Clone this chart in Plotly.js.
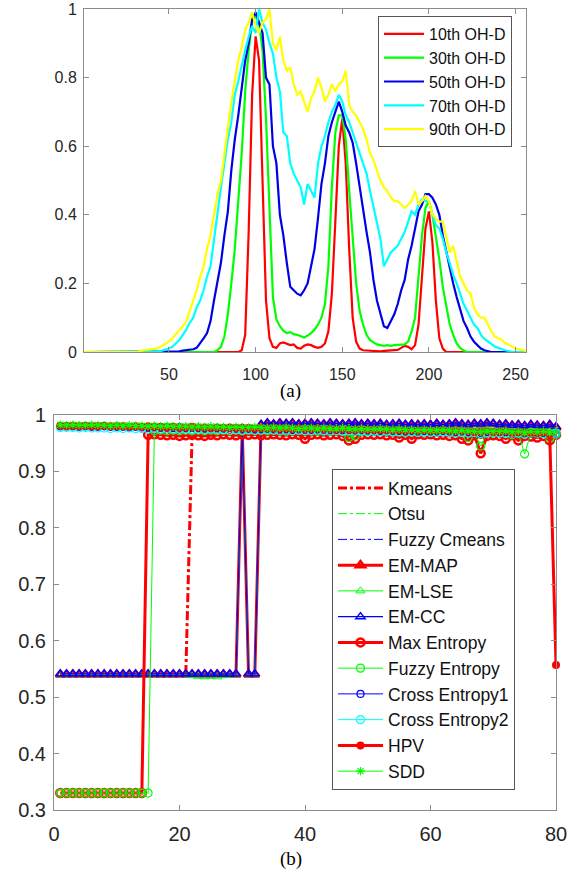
<!DOCTYPE html>
<html>
<head>
<meta charset="utf-8">
<script src="https://cdn.plot.ly/plotly-3.0.1.min.js"></script>
<style>html,body{margin:0;padding:0;background:#fff;}#chart{width:579px;height:873px;}</style>
</head>
<body>
<div id="chart"></div>
<script>
// ---------- (a) histograms ----------
const grayLevels = [0,2,4,6,8,10,12,14,16,18, 20,22,24,26,28,30,32,34,36,38, 40,42,44,46,48,50,52,54,56,58,
  60,62,64,66,68,70,72,74,76,78, 80,82,84,86,88,90,92,94,96,98, 100,102,104,106,108,110,112,114,116,118,
  120,122,124,126,128,130,132,134,136,138, 140,142,144,146,148,150,152,154,156,158,
  160,162,164,166,168,170,172,174,176,178, 180,182,184,186,188,190,192,194,196,198,
  200,202,204,206,208,210,212,214,216,218, 220,222,224,226,228,230,232,234,236,238,
  240,242,244,246,248,250,252,254,256];

const histNames = ['10th OH-D','30th OH-D','50th OH-D','70th OH-D','90th OH-D'];

const oh10 = [0,0,0,0,0,0,0,0,0,0, 0,0,0,0,0,0,0,0,0,0, 0,0,0,0,0,0,0,0,0,0, 0,0,0,0,0,0,0,0,0,0,
  0,0,0,0,0,0,0.005,0.05,0.35,0.75,
  0.92,0.85,0.5,0.15,0.04,0.015,0.012,0.025,0.028,0.025,
  0.02,0.022,0.012,0.01,0.018,0.022,0.02,0.015,0.012,0.015,
  0.025,0.06,0.17,0.38,0.6,0.68,0.55,0.3,0.1,0.03,
  0.01,0.005,0.004,0.003,0.004,0.003,0.002,0.003,0.004,0.003,
  0.004,0.006,0.012,0.018,0.015,0.008,0.02,0.08,0.22,0.36,
  0.41,0.32,0.15,0.04,0.01,0,0,0,0,0,
  0,0,0,0,0,0,0,0,0,0, 0,0,0,0,0,0,0,0,0];

const oh30 = [0,0,0,0,0,0,0,0,0,0, 0,0,0,0,0,0,0,0,0,0, 0,0,0,0,0,0,0,0,0,0,
  0,0,0,0,0,0,0,0,0,0.005,
  0.015,0.045,0.11,0.2,0.3,0.44,0.58,0.76,0.88,0.96,
  0.98,0.96,0.88,0.68,0.4,0.16,0.095,0.075,0.062,0.055,
  0.058,0.052,0.05,0.045,0.042,0.048,0.055,0.065,0.08,0.1,
  0.14,0.25,0.48,0.64,0.69,0.69,0.62,0.47,0.32,0.2,
  0.12,0.08,0.05,0.035,0.028,0.022,0.02,0.018,0.02,0.018,
  0.02,0.02,0.02,0.022,0.03,0.06,0.1,0.22,0.34,0.42,
  0.44,0.4,0.34,0.27,0.19,0.13,0.08,0.05,0.025,0.012,
  0.004,0,0,0,0,0,0,0,0,0, 0,0,0,0,0,0,0,0,0];

const oh50 = [0,0,0,0,0,0,0,0,0,0, 0,0,0,0,0,0,0,0,0,0,
  0,0,0,0,0,0,0,0,0.002,0.004,
  0.005,0.006,0.008,0.012,0.025,0.04,0.055,0.09,0.15,0.21,
  0.26,0.34,0.41,0.53,0.62,0.69,0.77,0.85,0.9,0.97,
  0.99,0.96,0.93,0.8,0.78,0.6,0.55,0.4,0.34,0.26,
  0.19,0.18,0.17,0.165,0.18,0.2,0.25,0.3,0.39,0.49,
  0.55,0.63,0.67,0.7,0.73,0.7,0.66,0.64,0.61,0.55,
  0.48,0.42,0.35,0.29,0.21,0.15,0.11,0.075,0.07,0.09,
  0.11,0.14,0.18,0.21,0.27,0.31,0.36,0.41,0.43,0.46,
  0.46,0.45,0.43,0.4,0.34,0.29,0.24,0.2,0.16,0.125,
  0.09,0.07,0.045,0.03,0.02,0.01,0.005,0.002,0,0,
  0,0,0,0,0,0,0,0,0];

const oh70 = [0,0,0,0,0,0,0,0,0,0, 0,0,0,0,0,0,0,0,0,0,
  0,0,0.002,0.004,0.006,0.01,0.015,0.025,0.035,0.05,
  0.065,0.085,0.1,0.13,0.15,0.18,0.22,0.25,0.33,0.4,
  0.48,0.55,0.62,0.67,0.75,0.79,0.84,0.88,0.92,0.95,
  0.93,1.0,0.96,0.94,0.9,0.87,0.8,0.76,0.64,0.63,
  0.55,0.52,0.5,0.48,0.43,0.49,0.47,0.45,0.55,0.6,
  0.63,0.67,0.7,0.72,0.75,0.73,0.69,0.67,0.64,0.61,
  0.58,0.55,0.52,0.47,0.42,0.37,0.33,0.25,0.27,0.29,
  0.3,0.31,0.33,0.35,0.38,0.41,0.4,0.43,0.445,0.44,
  0.44,0.4,0.37,0.36,0.33,0.29,0.26,0.225,0.2,0.17,
  0.14,0.12,0.1,0.08,0.07,0.05,0.038,0.03,0.022,0.016,
  0.012,0.008,0.005,0.003,0,0,0,0,0];

const oh90 = [0,0,0,0,0,0,0,0,0,0,
  0,0,0,0,0,0,0,0.004,0.005,0.006,
  0.008,0.01,0.012,0.018,0.025,0.03,0.04,0.05,0.063,0.075,
  0.09,0.12,0.15,0.18,0.22,0.25,0.3,0.34,0.4,0.46,
  0.5,0.58,0.65,0.73,0.79,0.85,0.89,0.94,0.96,0.99,
  0.95,0.93,0.96,0.97,1.0,0.9,0.88,0.92,0.85,0.82,
  0.83,0.78,0.75,0.76,0.73,0.7,0.74,0.76,0.8,0.77,
  0.73,0.75,0.78,0.76,0.78,0.79,0.82,0.72,0.7,0.69,
  0.67,0.65,0.62,0.58,0.56,0.53,0.5,0.48,0.47,0.45,
  0.44,0.44,0.43,0.42,0.43,0.44,0.47,0.43,0.44,0.455,
  0.44,0.4,0.39,0.38,0.38,0.33,0.29,0.31,0.26,0.22,
  0.2,0.18,0.17,0.13,0.11,0.1,0.1,0.08,0.06,0.045,
  0.04,0.035,0.025,0.022,0.015,0.01,0.008,0.005,0.003];

const histColors = ['#ff0000','#00ff00','#0000e6','#00ffff','#ffff00'];

// ---------- (b) segmentation scores ----------
const imageIndex = [1,2,3,4,5,6,7,8,9,10, 11,12,13,14,15,16,17,18,19,20, 21,22,23,24,25,26,27,28,29,30,
  31,32,33,34,35,36,37,38,39,40, 41,42,43,44,45,46,47,48,49,50, 51,52,53,54,55,56,57,58,59,60,
  61,62,63,64,65,66,67,68,69,70, 71,72,73,74,75,76,77,78,79,80];

const methodNames = ['Kmeans','Otsu','Fuzzy Cmeans','EM-MAP','EM-LSE','EM-CC','Max Entropy','Fuzzy Entropy','Cross Entropy1','Cross Entropy2','HPV','SDD'];

const kmeans = [0.54,0.54,0.54,0.54,0.54,0.54,0.54,0.54,0.54,0.54,
  0.54,0.54,0.54,0.54,0.54,0.54,0.54,0.54,0.54,0.54,
  0.54,0.962,0.965,0.966,0.964,0.966,0.967,0.966,0.968,0.967,
  0.968,0.967,0.969,0.968,0.97,0.968,0.969,0.97,0.968,0.967,
  0.969,0.97,0.968,0.969,0.97,0.969,0.966,0.967,0.969,0.97,
  0.969,0.97,0.968,0.969,0.967,0.968,0.966,0.968,0.969,0.97,
  0.968,0.969,0.967,0.968,0.965,0.964,0.966,0.96,0.966,0.967,
  0.966,0.964,0.966,0.963,0.965,0.966,0.964,0.966,0.962,0.965];

const otsu = [0.982,0.982,0.981,0.982,0.981,0.981,0.982,0.981,0.981,0.98,
  0.98,0.981,0.98,0.98,0.979,0.98,0.979,0.979,0.98,0.979,
  0.979,0.978,0.979,0.978,0.979,0.978,0.978,0.977,0.978,0.977,
  0.977,0.978,0.977,0.977,0.976,0.977,0.976,0.977,0.976,0.975,
  0.976,0.975,0.976,0.975,0.975,0.976,0.974,0.975,0.975,0.974,
  0.975,0.974,0.975,0.974,0.973,0.974,0.973,0.974,0.973,0.973,
  0.974,0.973,0.972,0.973,0.972,0.971,0.972,0.968,0.972,0.971,
  0.971,0.97,0.971,0.969,0.97,0.97,0.969,0.97,0.968,0.969];

const fuzzyCmeans = [0.981,0.981,0.98,0.981,0.98,0.98,0.981,0.98,0.98,0.98,
  0.98,0.979,0.98,0.979,0.979,0.98,0.979,0.978,0.979,0.978,
  0.978,0.979,0.978,0.977,0.978,0.977,0.978,0.977,0.977,0.976,
  0.977,0.976,0.977,0.976,0.976,0.977,0.976,0.975,0.976,0.975,
  0.975,0.976,0.975,0.974,0.975,0.974,0.975,0.974,0.974,0.973,
  0.974,0.973,0.974,0.973,0.973,0.972,0.973,0.972,0.973,0.972,
  0.972,0.973,0.972,0.971,0.972,0.971,0.97,0.969,0.971,0.97,
  0.97,0.971,0.969,0.97,0.968,0.969,0.968,0.969,0.967,0.968];

const emMap = [0.54,0.54,0.54,0.54,0.54,0.54,0.54,0.54,0.54,0.54,
  0.54,0.54,0.54,0.54,0.54,0.54,0.54,0.54,0.54,0.54,
  0.54,0.54,0.54,0.54,0.54,0.54,0.54,0.54,0.54,0.975,
  0.54,0.54,0.982,0.985,0.983,0.985,0.984,0.985,0.983,0.984,
  0.985,0.984,0.983,0.985,0.984,0.983,0.984,0.985,0.983,0.984,
  0.983,0.984,0.982,0.983,0.984,0.982,0.983,0.982,0.983,0.982,
  0.984,0.982,0.983,0.985,0.983,0.982,0.984,0.983,0.985,0.984,
  0.982,0.983,0.981,0.982,0.98,0.982,0.981,0.98,0.982,0.978];

const emLse = [0.54,0.54,0.54,0.54,0.54,0.54,0.54,0.54,0.54,0.54,
  0.54,0.54,0.54,0.54,0.54,0.54,0.54,0.54,0.54,0.54,
  0.54,0.538,0.537,0.536,0.537,0.536,0.538,0.539,0.54,0.972,
  0.54,0.54,0.976,0.978,0.977,0.978,0.977,0.978,0.976,0.977,
  0.978,0.977,0.976,0.978,0.977,0.976,0.977,0.978,0.976,0.977,
  0.976,0.977,0.975,0.976,0.977,0.975,0.976,0.975,0.976,0.975,
  0.977,0.975,0.976,0.977,0.976,0.975,0.976,0.975,0.977,0.976,
  0.975,0.976,0.974,0.975,0.973,0.975,0.974,0.973,0.975,0.972];

const emCc = [0.541,0.541,0.541,0.541,0.541,0.541,0.541,0.541,0.541,0.541,
  0.541,0.541,0.541,0.541,0.541,0.541,0.541,0.541,0.541,0.541,
  0.541,0.541,0.541,0.541,0.541,0.541,0.541,0.541,0.541,0.976,
  0.541,0.541,0.983,0.986,0.984,0.986,0.985,0.986,0.984,0.985,
  0.986,0.985,0.984,0.986,0.985,0.984,0.985,0.986,0.984,0.985,
  0.984,0.985,0.983,0.984,0.985,0.983,0.984,0.983,0.984,0.983,
  0.985,0.983,0.984,0.986,0.984,0.983,0.985,0.984,0.986,0.985,
  0.983,0.984,0.982,0.983,0.981,0.983,0.982,0.981,0.983,0.979];

const maxEntropy = [0.33,0.33,0.33,0.33,0.33,0.33,0.33,0.33,0.33,0.33,
  0.33,0.33,0.33,0.33,0.965,0.966,0.965,0.964,0.965,0.963,
  0.964,0.965,0.964,0.963,0.965,0.964,0.966,0.965,0.964,0.966,
  0.965,0.966,0.964,0.965,0.966,0.965,0.964,0.966,0.965,0.958,
  0.965,0.966,0.964,0.965,0.966,0.963,0.955,0.958,0.965,0.966,
  0.965,0.966,0.964,0.965,0.96,0.965,0.958,0.966,0.965,0.966,
  0.964,0.965,0.963,0.964,0.958,0.955,0.964,0.932,0.963,0.964,
  0.963,0.958,0.964,0.955,0.963,0.962,0.96,0.963,0.955,0.965];

const fuzzyEntropy = [0.33,0.33,0.33,0.33,0.33,0.33,0.33,0.33,0.33,0.33,
  0.33,0.33,0.33,0.33,0.33,0.972,0.973,0.972,0.973,0.972,
  0.973,0.972,0.973,0.972,0.973,0.972,0.973,0.972,0.973,0.972,
  0.973,0.972,0.973,0.972,0.973,0.972,0.971,0.972,0.973,0.972,
  0.972,0.971,0.972,0.973,0.972,0.971,0.96,0.963,0.972,0.971,
  0.972,0.971,0.972,0.971,0.97,0.971,0.97,0.971,0.97,0.971,
  0.97,0.971,0.97,0.969,0.97,0.96,0.969,0.945,0.969,0.968,
  0.969,0.968,0.965,0.968,0.931,0.968,0.967,0.968,0.958,0.966];

const crossEntropy1 = [0.98,0.98,0.98,0.979,0.98,0.979,0.979,0.98,0.979,0.979,
  0.979,0.978,0.979,0.978,0.978,0.979,0.978,0.978,0.977,0.978,
  0.977,0.978,0.977,0.977,0.976,0.977,0.976,0.977,0.976,0.976,
  0.976,0.975,0.976,0.975,0.976,0.975,0.975,0.974,0.975,0.974,
  0.974,0.975,0.974,0.974,0.973,0.974,0.973,0.973,0.974,0.973,
  0.973,0.972,0.973,0.972,0.972,0.971,0.972,0.971,0.972,0.971,
  0.971,0.972,0.971,0.97,0.971,0.97,0.969,0.968,0.97,0.969,
  0.969,0.97,0.968,0.969,0.967,0.968,0.967,0.968,0.966,0.967];

const crossEntropy2 = [0.978,0.978,0.978,0.977,0.978,0.977,0.977,0.977,0.976,0.977,
  0.976,0.977,0.976,0.976,0.975,0.976,0.975,0.976,0.975,0.975,
  0.975,0.974,0.975,0.974,0.975,0.974,0.974,0.973,0.974,0.973,
  0.974,0.973,0.973,0.974,0.973,0.972,0.973,0.972,0.973,0.972,
  0.972,0.973,0.972,0.971,0.972,0.971,0.972,0.971,0.971,0.97,
  0.971,0.97,0.971,0.97,0.97,0.969,0.97,0.969,0.97,0.969,
  0.969,0.97,0.969,0.968,0.969,0.968,0.969,0.967,0.968,0.969,
  0.968,0.967,0.969,0.968,0.966,0.969,0.968,0.967,0.966,0.968];

const hpv = [0.981,0.98,0.981,0.98,0.981,0.98,0.98,0.981,0.98,0.98,
  0.98,0.979,0.98,0.979,0.98,0.979,0.979,0.978,0.979,0.978,
  0.978,0.979,0.978,0.978,0.977,0.978,0.977,0.978,0.977,0.977,
  0.977,0.976,0.977,0.976,0.977,0.976,0.976,0.975,0.976,0.975,
  0.975,0.976,0.975,0.975,0.974,0.975,0.974,0.974,0.975,0.974,
  0.974,0.973,0.974,0.973,0.973,0.972,0.973,0.972,0.973,0.972,
  0.972,0.973,0.972,0.971,0.972,0.971,0.97,0.97,0.971,0.97,
  0.97,0.971,0.969,0.97,0.968,0.969,0.968,0.969,0.966,0.557];

const sdd = [0.983,0.982,0.983,0.982,0.982,0.983,0.982,0.982,0.981,0.982,
  0.981,0.982,0.981,0.981,0.98,0.981,0.98,0.981,0.98,0.98,
  0.98,0.979,0.98,0.979,0.98,0.979,0.979,0.978,0.979,0.978,
  0.978,0.979,0.978,0.977,0.978,0.977,0.978,0.977,0.976,0.977,
  0.977,0.976,0.977,0.976,0.976,0.977,0.976,0.975,0.976,0.975,
  0.975,0.976,0.975,0.974,0.975,0.974,0.974,0.973,0.974,0.973,
  0.973,0.974,0.973,0.972,0.973,0.972,0.971,0.97,0.972,0.971,
  0.971,0.972,0.97,0.971,0.969,0.971,0.97,0.971,0.969,0.97];

// ---------- build traces ----------
const histSeries = [oh10, oh30, oh50, oh70, oh90];
const traces = [];
histSeries.forEach((vals, i) => {
  traces.push({
    x: grayLevels, y: vals, type: 'scatter', mode: 'lines', name: histNames[i],
    xaxis: 'x', yaxis: 'y', legend: 'legend',
    line: {color: histColors[i], width: 2.2}
  });
});

const methodSeries = [kmeans, otsu, fuzzyCmeans, emMap, emLse, emCc, maxEntropy, fuzzyEntropy, crossEntropy1, crossEntropy2, hpv, sdd];
const methodStyles = [
  {mode:'lines', line:{color:'#ff0000', width:3, dash:'dashdot'}},
  {mode:'lines', line:{color:'#00ff00', width:1, dash:'dashdot'}},
  {mode:'lines', line:{color:'#0000ff', width:1, dash:'dashdot'}},
  {mode:'lines+markers', line:{color:'#ff0000', width:3}, marker:{symbol:'triangle-up-open', size:8, color:'#ff0000', line:{width:2.5}}},
  {mode:'lines+markers', line:{color:'#00ff00', width:1}, marker:{symbol:'triangle-up-open', size:8, color:'#00ff00', line:{width:1}}},
  {mode:'lines+markers', line:{color:'#0000ff', width:1.2}, marker:{symbol:'triangle-up-open', size:8, color:'#0000ff', line:{width:1.5}}},
  {mode:'lines+markers', line:{color:'#ff0000', width:3}, marker:{symbol:'circle-open', size:8, color:'#ff0000', line:{width:2.5}}},
  {mode:'lines+markers', line:{color:'#00ff00', width:1}, marker:{symbol:'circle-open', size:8, color:'#00ff00', line:{width:1.2}}},
  {mode:'lines+markers', line:{color:'#0000ff', width:1}, marker:{symbol:'circle-open', size:7, color:'#0000ff', line:{width:1.2}}},
  {mode:'lines+markers', line:{color:'#00ffff', width:1}, marker:{symbol:'circle-open', size:8, color:'#00ffff', line:{width:1.2}}},
  {mode:'lines+markers', line:{color:'#ff0000', width:3}, marker:{symbol:'circle', size:8, color:'#ff0000'}},
  {mode:'lines+markers', line:{color:'#00ff00', width:1}, marker:{symbol:'asterisk-open', size:7, color:'#00ff00', line:{width:1.2, color:'#00ff00'}}}
];
methodSeries.forEach((vals, i) => {
  traces.push(Object.assign({
    x: imageIndex, y: vals, type: 'scatter', name: methodNames[i],
    xaxis: 'x2', yaxis: 'y2', legend: 'legend2', cliponaxis: false
  }, methodStyles[i]));
});

const W = 579, H = 873;
const axCommon = {
  showgrid: false, zeroline: false, showline: true, linecolor: '#8c8c8c', linewidth: 1,
  mirror: 'ticks', ticks: 'inside', ticklen: 5, tickcolor: '#8c8c8c', tickwidth: 1,
  ticklabeloverflow: 'allow',
  tickfont: {family: 'Liberation Sans, Arial, sans-serif', color: '#262626'}
};
const layout = {
  width: W, height: H, margin: {l:0, r:0, t:0, b:0},
  paper_bgcolor: '#ffffff', plot_bgcolor: '#ffffff',
  font: {family: 'Liberation Sans, Arial, sans-serif', color: '#262626'},
  showlegend: true,
  xaxis: Object.assign({}, axCommon, {
    domain: [84/W, 526/W], anchor: 'y', range: [1, 256],
    tickvals: [50,100,150,200,250], ticktext: ['50','100','150','200','250'],
    tickfont: {size: 16, color: '#262626'}, ticklabelstandoff: 8
  }),
  yaxis: Object.assign({}, axCommon, {
    domain: [1 - 352/H, 1 - 9/H], anchor: 'x', range: [0, 1],
    tickvals: [0,0.2,0.4,0.6,0.8,1], ticktext: ['0','0.2','0.4','0.6','0.8','1'],
    tickfont: {size: 16, color: '#262626'}, ticklabelstandoff: 3
  }),
  xaxis2: Object.assign({}, axCommon, {
    domain: [54/W, 556/W], anchor: 'y2', range: [0, 80],
    tickvals: [0,20,40,60,80], ticktext: ['0','20','40','60','80'],
    tickfont: {size: 20, color: '#262626'}, ticklabelstandoff: 6
  }),
  yaxis2: Object.assign({}, axCommon, {
    domain: [1 - 810/H, 1 - 415/H], anchor: 'x2', range: [0.3, 1],
    tickvals: [0.3,0.4,0.5,0.6,0.7,0.8,0.9,1], ticktext: ['0.3','0.4','0.5','0.6','0.7','0.8','0.9','1'],
    tickfont: {size: 20, color: '#262626'}, ticklabelstandoff: 3
  }),
  legend: {
    x: 378/W, y: 1 - 16/H, xanchor: 'left', yanchor: 'top',
    bgcolor: '#ffffff', bordercolor: '#555555', borderwidth: 1,
    font: {size: 16, color: '#111111'}, itemwidth: 40, tracegroupgap: 0
  },
  legend2: {
    x: 332/W, y: 1 - 469/H, xanchor: 'left', yanchor: 'top',
    bgcolor: '#ffffff', bordercolor: '#555555', borderwidth: 1,
    font: {size: 17.5, color: '#111111'}, itemwidth: 45, tracegroupgap: 0
  },
  annotations: [
    {text: '(a)', xref: 'paper', yref: 'paper', x: 290.5/W, y: 1 - 391/H, xanchor: 'center', yanchor: 'middle',
     showarrow: false, font: {family: 'Liberation Serif, Times New Roman, serif', size: 19, color: '#000000'}},
    {text: '(b)', xref: 'paper', yref: 'paper', x: 290.5/W, y: 1 - 859/H, xanchor: 'center', yanchor: 'middle',
     showarrow: false, font: {family: 'Liberation Serif, Times New Roman, serif', size: 19, color: '#000000'}}
  ]
};

Plotly.newPlot('chart', traces, layout, {displayModeBar: false, staticPlot: true});
</script>
</body>
</html>
